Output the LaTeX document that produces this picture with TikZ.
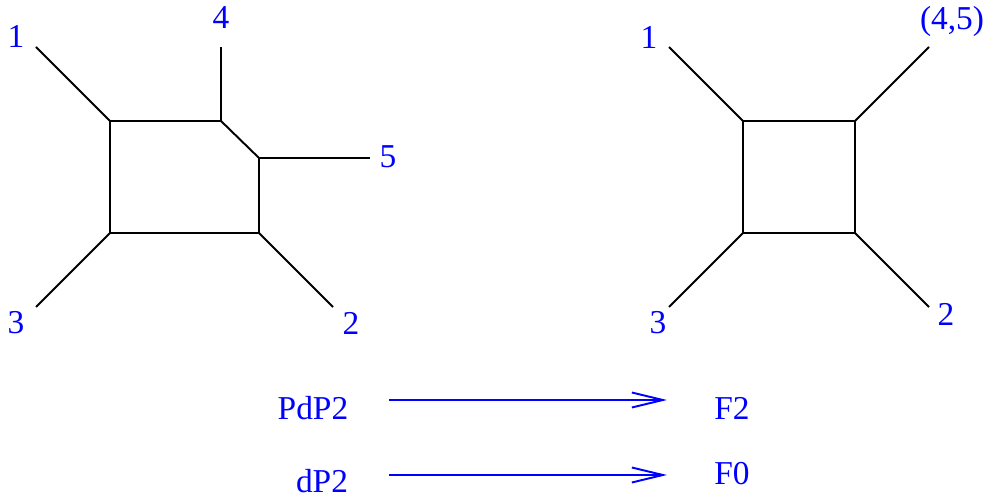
\documentclass[tikz,border=0pt]{standalone}
\usepackage{fontspec}
\setmainfont{Liberation Serif}
\usetikzlibrary{arrows.meta}
\usetikzlibrary{positioning}

\begin{document}
\begin{tikzpicture}[x=0.02cm,y=-0.02cm,
    leg/.style={line width=1.1pt},
    lbl/.style={text=blue,inner sep=0pt,font=\fontsize{19}{22}\selectfont},
    flow/.style={blue,line width=1.1pt,-{Straight Barb[length=0.62cm,width=0.3cm,line width=1.1pt]}}]
      \useasboundingbox (0,0) rectangle (987,499);

      % Define the corners of the left box
      \coordinate (LA) at (110,121);
      \coordinate (LB) at (221,121);
      \coordinate (LC) at (259,158);
      \coordinate (LD) at (259,233);
      \coordinate (LE) at (110,233);

      % Define the outer ends of the left legs
      \coordinate (L1) at (36,47);
      \coordinate (L4) at (221,47);
      \coordinate (L5) at (370,158);
      \coordinate (L2) at (333,307);
      \coordinate (L3) at (36,307);

      % Draw the left diagram
      \draw[leg] (LA) -- (LB) -- (LC) -- (LD) -- (LE) -- cycle;
      \draw[leg] (LA) -- (L1);
      \draw[leg] (LB) -- (L4);
      \draw[leg] (LC) -- (L5);
      \draw[leg] (LD) -- (L2);
      \draw[leg] (LE) -- (L3);

      % Label the left legs
      \node[lbl] (l1) at (16,36) {1};
      \node[lbl] (l4) at (221,18) {4};
      \node[lbl] (l5) at (388,157) {5};
      \node[lbl] (l2) at (351,323) {2};
      \node[lbl] (l3) at (16,323) {3};

      % Define the corners of the right box
      \coordinate (RA) at (743,121);
      \coordinate (RB) at (855,121);
      \coordinate (RC) at (855,233);
      \coordinate (RD) at (743,233);

      % Define the outer ends of the right legs
      \coordinate (R1) at (669,47);
      \coordinate (R45) at (929,47);
      \coordinate (R2) at (929,307);
      \coordinate (R3) at (669,307);

      % Draw the right diagram
      \draw[leg] (RA) -- (RB) -- (RC) -- (RD) -- cycle;
      \draw[leg] (RA) -- (R1);
      \draw[leg] (RB) -- (R45);
      \draw[leg] (RC) -- (R2);
      \draw[leg] (RD) -- (R3);

      % Label the right legs
      \node[lbl] (r1) at (649,37) {1};
      \node[lbl] (r45) at (952,21) {(4,5)};
      \node[lbl] (r2) at (946,314) {2};
      \node[lbl] (r3) at (658,323) {3};

      % The two maps below
      \node[lbl] (pdp) at (313,408) {PdP2};
      \node[lbl] (ftwo) at (732,408) {F2};
      \node[lbl] (dp) at (322,481) {dP2};
      \node[lbl] (fzero) at (732,474) {F0};

      \coordinate (pdpout) at (389,400);
      \coordinate (ftwoin) at (667,400);
      \coordinate (dpout) at (389,475);
      \coordinate (fzeroin) at (667,475);

      \draw[flow] (pdpout) -- (ftwoin);
      \draw[flow] (dpout) -- (fzeroin);
    \end{tikzpicture}
\end{document}
